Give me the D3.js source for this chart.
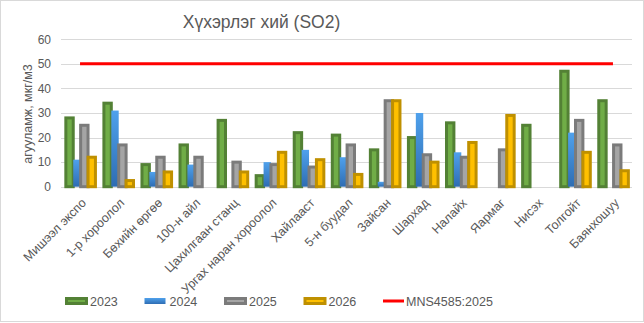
<!DOCTYPE html>
<html>
<head>
<meta charset="utf-8">
<script src="https://cdn.jsdelivr.net/npm/d3@7"></script>
<style>
  html, body { margin: 0; padding: 0; background: #fff; }
  svg { display: block; font-family: "Liberation Sans", Arial, sans-serif; }
</style>
</head>
<body>
<svg id="chart" width="644" height="323"></svg>
<script>
// Monitoring stations
const categories = [
  "Мишээл экспо", "1-р хороолол", "Бөхийн өргөө", "100-н айл", "Цахилгаан станц",
  "Ургах наран хороолол", "Хайлааст", "5-н буудал", "Зайсан", "Шархад",
  "Налайх", "Яармаг", "Нисэх", "Толгойт", "Баянхошуу"
];

// SO2 concentration per year, µg/m3 (null = no measurement)
const years = ["2023", "2024", "2025", "2026"];
const values2023 = [28, 34, 9, 17, 27, 4.5, 22, 21, 15, 20, 26, null, 25, 47, 35];
const values2024 = [11, 31, 6, 9, null, 10, 15, 12, 2, 30, 14, null, null, 22, null];
const values2025 = [25, 17, 12, 12, 10, 9, 8, 17, 35, 13, 12, 15, null, 27, 17];
const values2026 = [12, 2.5, 6, null, 6, 14, 11, 5, 35, 10, 18, 29, null, 14, 6.5];

// National standard limit
const limitLabel = "MNS4585:2025";
const limitValue = 50;

const yTicks = [0, 10, 20, 30, 40, 50, 60];

const seriesValues = [values2023, values2024, values2025, values2026];
const seriesStyle = [
  { fill: "#70ad47", stroke: "#538135" },
  { fill: "url(#blueGrad)", stroke: null },
  { fill: "#a5a5a5", stroke: "#7b7b7b" },
  { fill: "#ffc000", stroke: "#bf9000" }
];

const svg = d3.select("#chart");
const W = 644, H = 323;
const textColor = "#595959";

// chart frame
svg.append("rect")
  .attr("x", 0.5).attr("y", 0.5).attr("width", W - 1).attr("height", H - 2)
  .attr("fill", "#fff").attr("stroke", "#d9d9d9");

const defs = svg.append("defs");
const grad = defs.append("linearGradient").attr("id", "blueGrad")
  .attr("x1", 0).attr("y1", 0).attr("x2", 0).attr("y2", 1);
grad.append("stop").attr("offset", "0%").attr("stop-color", "#4fa1ec");
grad.append("stop").attr("offset", "100%").attr("stop-color", "#2e6db3");

const plot = { left: 61, right: 632, top: 39.3, bottom: 186.7 };

const x = d3.scaleBand().domain(categories).range([plot.left, plot.right]).padding(0);
const y = d3.scaleLinear().domain([0, 60]).range([plot.bottom, plot.top]);
const clusterW = 29.6;
const xInner = d3.scaleBand().domain(years)
  .range([x.bandwidth() / 2 - clusterW / 2 + 0.6, x.bandwidth() / 2 + clusterW / 2 + 0.6]);

// gridlines
svg.append("g").selectAll("line").data(yTicks).join("line")
  .attr("x1", plot.left).attr("x2", plot.right)
  .attr("y1", d => Math.round(y(d)) + 0.5).attr("y2", d => Math.round(y(d)) + 0.5)
  .attr("stroke", "#d9d9d9").attr("stroke-width", 1);

// y axis labels
const yAxis = d3.axisLeft(y).tickValues(yTicks).tickSize(0).tickPadding(10);
const yg = svg.append("g").attr("transform", `translate(${plot.left},0)`).call(yAxis);
yg.select(".domain").remove();
yg.selectAll("text").attr("fill", textColor).attr("font-size", 12)
  .attr("font-family", "Liberation Sans, Arial, sans-serif");

// bars
const barsG = svg.append("g");
seriesValues.forEach((vals, si) => {
  const st = seriesStyle[si];
  const data = categories.map((c, i) => ({ c, v: vals[i] })).filter(d => d.v != null);
  barsG.append("g").selectAll("rect").data(data).join("rect")
    .attr("x", d => x(d.c) + xInner(years[si]))
    .attr("width", xInner.bandwidth())
    .attr("y", d => y(d.v))
    .attr("height", d => y(0) - y(d.v))
    .attr("fill", st.fill)
    .attr("stroke", st.stroke || "none")
    .attr("stroke-width", st.stroke ? 3 : 0);
});

// limit line
const limitLine = d3.line().x(d => x(d) + x.bandwidth() / 2).y(() => y(limitValue));
svg.append("path")
  .attr("d", limitLine([categories[0], categories[categories.length - 1]]))
  .attr("stroke", "#ff0000").attr("stroke-width", 3).attr("fill", "none");

// x axis labels
const xAxis = d3.axisBottom(x).tickSize(0).tickPadding(0);
const xg = svg.append("g").attr("transform", `translate(0,${plot.bottom})`).call(xAxis);
xg.select(".domain").remove();
xg.selectAll("text")
  .attr("fill", textColor).attr("font-size", 12.5)
  .attr("font-family", "Liberation Sans, Arial, sans-serif")
  .attr("text-anchor", "end")
  .attr("dy", null)
  .attr("y", 0)
  .attr("transform", "translate(7,17) rotate(-45)");

// title
svg.append("text")
  .attr("x", 261.5).attr("y", 28)
  .attr("text-anchor", "middle")
  .attr("fill", textColor).attr("font-size", 17.5)
  .text("Хүхэрлэг хий (SO2)");

// y axis title
svg.append("text")
  .attr("transform", "translate(32,114) rotate(-90)")
  .attr("text-anchor", "middle")
  .attr("fill", textColor).attr("font-size", 12.5)
  .text("агууламж, мкг/м3");

// legend
const legendItems = years.map((yr, i) => ({ label: yr, type: "bar", style: seriesStyle[i] }))
  .concat([{ label: limitLabel, type: "line" }]);
const legendX = d3.scalePoint().domain(legendItems.map(d => d.label)).range([65, 383]);
const lg = svg.append("g").selectAll("g").data(legendItems).join("g")
  .attr("transform", d => `translate(${legendX(d.label)},301)`);
lg.filter(d => d.type === "bar").append("rect")
  .attr("x", d => d.style.stroke ? 1.5 : 0)
  .attr("y", d => d.style.stroke ? -2.5 : -3)
  .attr("width", d => d.style.stroke ? 20 : 21)
  .attr("height", d => d.style.stroke ? 5 : 6)
  .attr("fill", d => d.style.fill)
  .attr("stroke", d => d.style.stroke || "none")
  .attr("stroke-width", 3);
lg.filter(d => d.type === "line").append("line")
  .attr("x1", 0).attr("x2", 21).attr("y1", 0).attr("y2", 0)
  .attr("stroke", "#ff0000").attr("stroke-width", 3);
lg.append("text")
  .attr("x", d => d.type === "line" ? 23 : 25).attr("y", 4.5)
  .attr("fill", textColor).attr("font-size", 12.5)
  .text(d => d.label);
</script>
</body>
</html>
